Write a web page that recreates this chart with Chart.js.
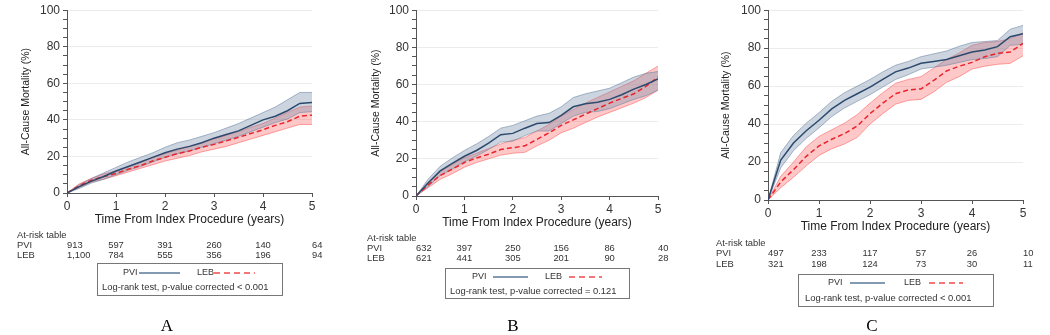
<!DOCTYPE html>
<html>
<head>
<meta charset="utf-8">
<title>All-cause mortality</title>
<script src="https://cdn.jsdelivr.net/npm/chart.js@4.4.1/dist/chart.umd.min.js"></script>
<style>
  body { margin: 0; background: #fff; }
  #wrap { position: relative; width: 1050px; height: 335px; overflow: hidden; }
  .panel { position: absolute; top: 0; width: 350px; height: 335px; }
  .letter { position: absolute; top: 316px; font-family: "Liberation Serif", serif; font-size: 17px; color: #000; transform: translateX(-50%); }
</style>
</head>
<body>
<div id="wrap">
  <div class="panel" style="left:0"><canvas id="chartA" width="350" height="335"></canvas></div>
  <div class="panel" style="left:350px"><canvas id="chartB" width="350" height="335"></canvas></div>
  <div class="panel" style="left:700px"><canvas id="chartC" width="350" height="335"></canvas></div>
  <div class="letter" style="left:167px">A</div>
  <div class="letter" style="left:513px">B</div>
  <div class="letter" style="left:872px">C</div>
</div>
<script>
// time grid (years) the curves were read at
const years = [0, 0.25, 0.5, 0.75, 1, 1.25, 1.5, 1.75, 2, 2.25, 2.5, 2.75, 3, 3.25, 3.5, 3.75, 4, 4.25, 4.5, 4.75, 5];
const riskYears = [0, 1, 2, 3, 4, 5];
const yTicks = [0, 20, 40, 60, 80, 100];

// Panel A
const pviA   = [0, 3.5, 6.5, 9, 12, 14.5, 17, 19.5, 22, 24, 25.5, 27.5, 30, 32, 34, 37, 40, 42, 45, 49, 49.5];
const pviHiA = [0, 4.5, 8, 11, 14, 17, 19.5, 22, 25, 27.5, 29, 31, 33, 35.5, 38, 41, 44, 47, 51, 55, 55];
const pviLoA = [0, 2.5, 5.5, 7.5, 10, 12.5, 14.5, 17, 19.5, 21.5, 23, 25, 27, 29, 31, 33.5, 36, 38.5, 40.5, 44, 44.5];
const lebA   = [0, 4, 7, 9, 10.7, 13, 15, 17.5, 19.5, 21.5, 23, 25, 26.6, 28.5, 30.5, 32.5, 34.6, 37, 39, 42, 42.6];
const lebHiA = [0, 5, 8, 10.5, 12, 14.5, 17, 19.5, 21.5, 23.5, 25.5, 27.5, 29.5, 31.5, 33.5, 36, 38, 41, 44, 47, 47.6];
const lebLoA = [0, 3, 6, 7.5, 9.5, 11.5, 13.5, 15.5, 17.5, 19, 20.5, 22.5, 24, 25.5, 27.5, 29.5, 31.5, 33.5, 35.5, 37.5, 37.5];
const pviRiskA = ['913', '597', '391', '260', '140', '64'];
const lebRiskA = ['1,100', '784', '555', '356', '196', '94'];

// Panel B
const pviB   = [0, 7, 13.5, 17.5, 21.4, 24.5, 28.5, 33, 33.7, 36.5, 39, 39.5, 43.4, 48, 49.6, 50.5, 52, 54.5, 57.5, 60, 63];
const pviHiB = [0, 9, 16, 20.5, 24.5, 28, 32, 36.5, 38, 40.5, 43, 44.5, 48, 53, 55, 56.5, 58, 61, 64, 66, 67];
const pviLoB = [0, 5, 11, 14.5, 18.5, 21.5, 25, 29, 29.5, 32.5, 35, 35, 39, 43, 45, 45.5, 47, 49.5, 52, 54, 57];
const lebB   = [0, 6, 11, 14.5, 18, 20.5, 22.5, 25, 26, 27, 30.5, 34, 38, 41, 44, 47, 50, 52.5, 55, 59, 64];
const lebHiB = [0, 7.5, 13, 17, 20.5, 23, 25.5, 28, 30, 31.5, 35, 38.5, 43, 46.5, 50, 53, 56, 59, 62, 66, 70];
const lebLoB = [0, 4.5, 9, 12, 15.5, 18, 20, 22, 23, 23.5, 27, 30, 34, 36.5, 39.5, 42.5, 45, 47.5, 50, 53, 57];
const pviRiskB = ['632', '397', '250', '156', '86', '40'];
const lebRiskB = ['621', '441', '305', '201', '90', '28'];

// Panel C
const pviC   = [0, 21, 30, 36.5, 42, 48, 52.5, 56, 59.5, 63.5, 67.5, 69.5, 72, 73, 74, 76, 78, 79, 80.8, 86, 87.6];
const pviHiC = [0, 25, 34, 40.5, 46, 52, 56.5, 60, 63.5, 67.5, 71, 73, 75.5, 77, 78.5, 81, 83, 83.5, 84, 90, 92];
const pviLoC = [0, 17, 26, 32.5, 38, 44, 48.5, 52, 55.5, 59.5, 63.5, 66, 69, 70, 71, 72.5, 74, 74.5, 75.5, 81.5, 82];
const lebC   = [0, 9.5, 16, 23, 28.5, 32, 35, 39, 45.5, 51, 56, 58, 58.5, 63, 68, 70.5, 72.5, 75.5, 77.3, 78, 82.5];
const lebHiC = [0, 12.5, 20, 28, 33.5, 37, 40.5, 45, 51, 56.5, 61.5, 63.5, 65, 69.5, 74, 77.5, 81.5, 83, 83.5, 85, 88];
const lebLoC = [0, 6.5, 12, 18, 23.5, 27, 29.5, 33, 40, 45.5, 50.5, 52.5, 53, 57, 62, 65, 69, 70.5, 71.5, 72, 76];
const pviRiskC = ['497', '233', '117', '57', '26', '10'];
const lebRiskC = ['321', '198', '124', '73', '30', '11'];

const FONT = '"Liberation Sans", Arial, sans-serif';
const pts = arr => years.map((t, i) => ({ x: t, y: arr[i] }));

// at-risk table + boxed legend under the plot
const riskTable = {
  id: 'riskTable',
  afterDraw(chart, args, o) {
    const { ctx, chartArea: area, scales: { x } } = chart;
    ctx.save();
    ctx.fillStyle = '#333';
    ctx.font = '9.4px ' + FONT;
    ctx.textBaseline = 'middle';
    const y0 = area.bottom + o.rowTop;
    const lx = area.left - o.labelOff;
    ctx.textAlign = 'left';
    ctx.fillText('At-risk table', lx, y0);
    [['PVI', o.pvi], ['LEB', o.leb]].forEach(([name, vals], r) => {
      const yy = y0 + (r + 1) * o.rowGap;
      ctx.textAlign = 'left';
      ctx.fillText(name, lx, yy);
      vals.forEach((v, i) => {
        ctx.textAlign = (i === 0 || i === vals.length - 1) ? 'left' : 'center';
        ctx.fillText(v, x.getPixelForValue(riskYears[i]), yy);
      });
    });

    const bx = Math.round(area.left + o.boxOff), by = Math.round(area.bottom + o.boxTop);
    ctx.strokeStyle = '#777';
    ctx.lineWidth = 1;
    ctx.strokeRect(bx + 0.5, by + 0.5, o.boxW, o.boxH);
    const ly = by + o.legRow;
    ctx.textAlign = 'left';
    ctx.font = '9px ' + FONT;
    ctx.fillText('PVI', bx + o.pviText, ly);
    ctx.fillText('LEB', bx + o.lebText, ly);
    ctx.lineWidth = 1.4;
    ctx.strokeStyle = '#5b7799';
    ctx.beginPath();
    ctx.moveTo(bx + o.pviLine[0], ly);
    ctx.lineTo(bx + o.pviLine[1], ly);
    ctx.stroke();
    ctx.strokeStyle = '#f24a4a';
    ctx.setLineDash([6, 4]);
    ctx.beginPath();
    ctx.moveTo(bx + o.lebLine[0], ly);
    ctx.lineTo(bx + o.lebLine[1], ly);
    ctx.stroke();
    ctx.setLineDash([]);
    ctx.font = '9.4px ' + FONT;
    ctx.fillText(o.pText, bx + o.textOff, by + o.textRow);
    ctx.restore();
  }
};

function makeChart(id, s, lay) {
  const band = (arr, fill, line, toNext) => ({
    data: pts(arr), borderColor: line, borderWidth: 0.8, backgroundColor: fill,
    fill: toNext ? '+1' : false, pointRadius: 0, tension: 0
  });
  return new Chart(document.getElementById(id), {
    type: 'line',
    data: {
      datasets: [
        { data: pts(s.pvi), borderColor: '#2c4a6e', borderWidth: 1.5, pointRadius: 0, fill: false },
        { data: pts(s.leb), borderColor: '#e8242c', borderWidth: 1.5, borderDash: [5, 3], pointRadius: 0, fill: false },
        band(s.pviHi, 'rgba(118,142,170,0.38)', 'rgba(105,130,160,0.7)', true),
        band(s.pviLo, 'rgba(118,142,170,0.38)', 'rgba(105,130,160,0.7)', false),
        band(s.lebHi, 'rgba(255,85,85,0.32)', 'rgba(250,110,110,0.8)', true),
        band(s.lebLo, 'rgba(255,85,85,0.32)', 'rgba(250,110,110,0.8)', false)
      ]
    },
    options: {
      responsive: false,
      animation: false,
      events: [],
      layout: { padding: { left: 0, right: lay.right, top: 6, bottom: lay.bottomPad } },
      scales: {
        x: {
          type: 'linear', min: 0, max: 5,
          afterFit: sc => { sc.height = 34; },
          ticks: { stepSize: 1, maxRotation: 0, padding: 2, color: '#333', font: { family: FONT, size: 12 } },
          grid: { drawOnChartArea: false, tickLength: 4, color: '#555' },
          border: { color: '#555' },
          title: { display: true, text: 'Time From Index Procedure (years)', color: '#222', padding: { top: 0, bottom: 0 }, font: { family: FONT, size: 12 } }
        },
        y: {
          min: 0, max: 100,
          afterFit: sc => { sc.width = lay.yWidth; },
          ticks: {
            stepSize: 5, autoSkip: false, padding: 3, color: '#333', font: { family: FONT, size: 12 },
            callback: v => (yTicks.includes(v) ? v : '')
          },
          grid: {
            tickLength: 4, tickColor: '#555',
            color: c => (c.tick && c.tick.value > 0 && c.tick.value % 20 === 0) ? '#ececec' : 'rgba(0,0,0,0)'
          },
          border: { color: '#555' },
          title: { display: true, text: 'All-Cause Mortality (%)', color: '#222', padding: { top: 19.5, bottom: 0 }, font: { family: FONT, size: 10.5 } }
        }
      },
      plugins: {
        legend: { display: false },
        tooltip: { enabled: false },
        riskTable: lay.table
      }
    },
    plugins: [riskTable]
  });
}

makeChart('chartA',
  { pvi: pviA, pviHi: pviHiA, pviLo: pviLoA, leb: lebA, lebHi: lebHiA, lebLo: lebLoA },
  { yWidth: 67, right: 38, bottomPad: 108,
    table: { pvi: pviRiskA, leb: lebRiskA, rowTop: 42, rowGap: 10, labelOff: 50,
      boxOff: 30, boxTop: 70, boxW: 185, boxH: 32, legRow: 10, textRow: 24, textOff: 5,
      pviText: 26, pviLine: [42, 83], lebText: 100, lebLine: [117, 158],
      pText: 'Log-rank test, p-value corrected < 0.001' } });

makeChart('chartB',
  { pvi: pviB, pviHi: pviHiB, pviLo: pviLoB, leb: lebB, lebHi: lebHiB, lebLo: lebLoB },
  { yWidth: 66, right: 42, bottomPad: 105,
    table: { pvi: pviRiskB, leb: lebRiskB, rowTop: 42, rowGap: 10, labelOff: 49,
      boxOff: 29, boxTop: 72, boxW: 184, boxH: 30, legRow: 9, textRow: 23, textOff: 5,
      pviText: 27, pviLine: [48, 83], lebText: 100, lebLine: [124, 157],
      pText: 'Log-rank test, p-value corrected = 0.121' } });

makeChart('chartC',
  { pvi: pviC, pviHi: pviHiC, pviLo: pviLoC, leb: lebC, lebHi: lebHiC, lebLo: lebLoC },
  { yWidth: 68, right: 27, bottomPad: 101,
    table: { pvi: pviRiskC, leb: lebRiskC, rowTop: 43, rowGap: 10.5, labelOff: 52,
      boxOff: 30, boxTop: 74, boxW: 195, boxH: 32, legRow: 9, textRow: 24, textOff: 7,
      pviText: 30, pviLine: [52, 87], lebText: 106, lebLine: [131, 165],
      pText: 'Log-rank test, p-value corrected < 0.001' } });
</script>
</body>
</html>
